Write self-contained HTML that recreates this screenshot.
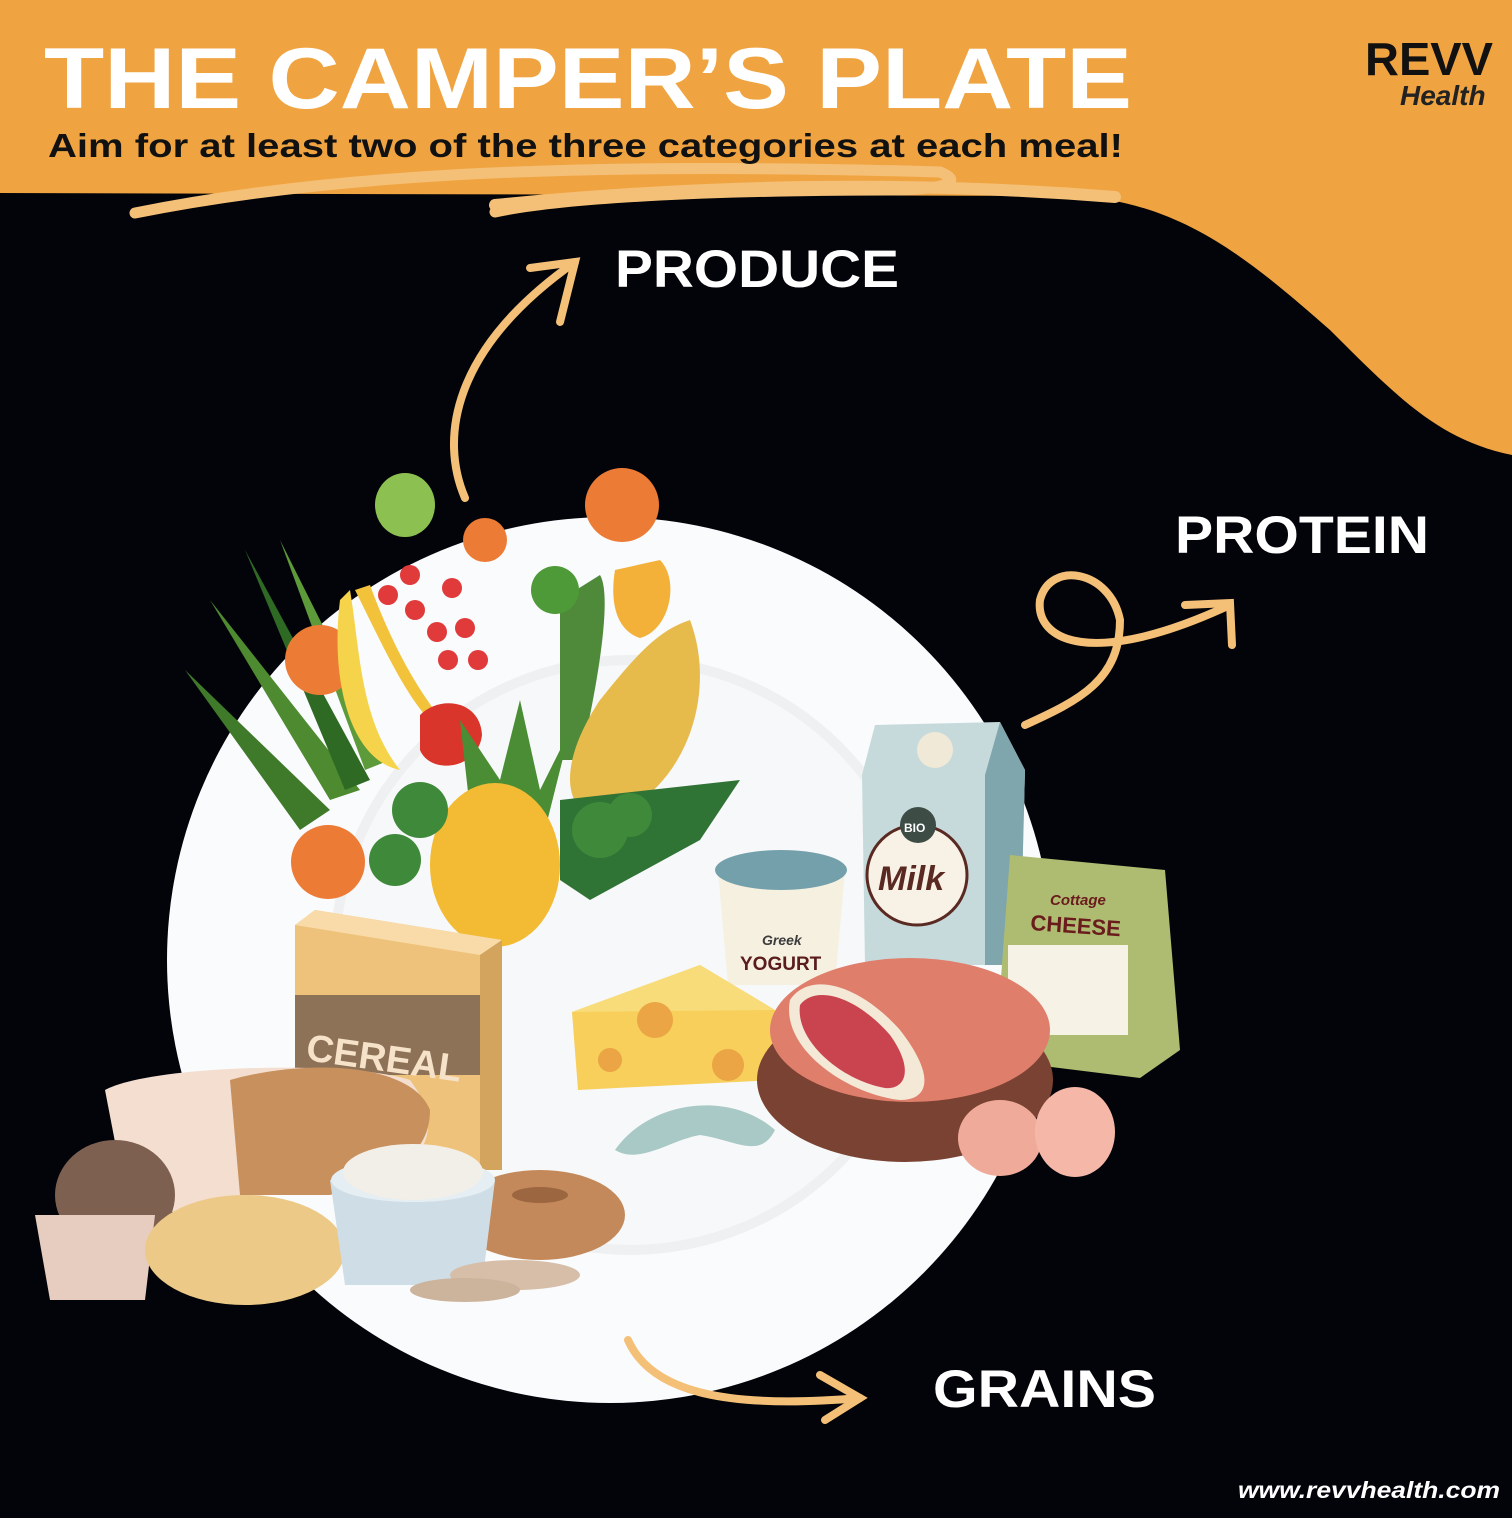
<!DOCTYPE html>
<html><head><meta charset="utf-8"><style>
html,body{margin:0;padding:0;background:#03040a;}
svg{display:block}
text{font-family:"Liberation Sans",sans-serif;font-weight:bold}
</style></head><body>
<svg width="1512" height="1518" viewBox="0 0 1512 1518" xmlns="http://www.w3.org/2000/svg">
<rect width="1512" height="1518" fill="#03040a"/>
<path d="M0 0H1512V455C1440 440 1400 400 1330 330C1250 260 1180 200 1070 196L0 193Z" fill="#f0a441"/>
<path d="M135 213C300 180 520 160 940 172C960 180 955 188 900 190C700 190 560 198 495 212" stroke="#f4c077" stroke-width="11" fill="none" stroke-linecap="round"/>
<path d="M495 205C700 185 900 180 1115 197" stroke="#f4c077" stroke-width="12" fill="none" stroke-linecap="round"/>
<text x="44" y="108" font-size="86" fill="#fff" textLength="1088" lengthAdjust="spacingAndGlyphs">THE CAMPER’S PLATE</text>
<text x="48" y="157" font-size="33" fill="#111" textLength="1075" lengthAdjust="spacingAndGlyphs">Aim for at least two of the three categories at each meal!</text>
<text x="1365" y="75" font-size="46" fill="#111" textLength="128" lengthAdjust="spacingAndGlyphs">REVV</text>
<text x="1400" y="105" font-size="28" fill="#222" font-style="italic" font-weight="normal" font-family="Liberation Serif">Health</text>
<text x="615" y="287" font-size="53" fill="#fff" textLength="284" lengthAdjust="spacingAndGlyphs">PRODUCE</text>
<text x="1175" y="553" font-size="53" fill="#fff" textLength="254" lengthAdjust="spacingAndGlyphs">PROTEIN</text>
<text x="933" y="1407" font-size="53" fill="#fff" textLength="223" lengthAdjust="spacingAndGlyphs">GRAINS</text>
<text x="1238" y="1498" font-size="23" fill="#fff" font-style="italic" font-weight="normal" textLength="262" lengthAdjust="spacingAndGlyphs">www.revvhealth.com</text>
<g stroke="#f4c077" stroke-width="8" fill="none" stroke-linecap="round">
<path d="M465 498C440 440 450 350 575 262"/><path d="M530 268L575 262L560 322"/>
<path d="M1025 725C1080 700 1120 680 1120 620C1110 570 1050 560 1040 600C1035 640 1090 670 1230 605"/><path d="M1185 605L1230 603L1232 645"/>
</g>
<circle cx="610" cy="960" r="443" fill="#fafbfc"/>
<circle cx="630" cy="955" r="300" fill="#eef0f2"/>
<circle cx="630" cy="955" r="290" fill="#f7f8f9"/>
<g stroke="#f4c077" stroke-width="8" fill="none" stroke-linecap="round">
<path d="M628 1340C650 1390 720 1410 860 1398"/><path d="M820 1375L860 1398L825 1420"/>
</g>
<g>
<path d="M185 670L330 810L300 830Z" fill="#3f7a2a"/><path d="M210 600L360 790L330 800Z" fill="#4d8a30"/><path d="M245 550L370 780L345 790Z" fill="#2f6a25"/><path d="M280 540L390 760L365 770Z" fill="#5c9a3a"/>
<ellipse cx="405" cy="505" rx="30" ry="32" fill="#8cc152"/>
<circle cx="485" cy="540" r="22" fill="#ec7b35"/><circle cx="622" cy="505" r="37" fill="#ec7b35"/>
<circle cx="320" cy="660" r="35" fill="#ec7b35"/><circle cx="328" cy="862" r="37" fill="#ec7b35"/>
<path d="M340 600C330 680 350 760 400 770C360 720 360 650 350 590Z" fill="#f5d34a"/><path d="M355 590C390 660 420 730 460 740C420 700 390 640 370 585Z" fill="#f2c23a"/>
<g fill="#e03a3a"><circle cx="388" cy="595" r="10"/><circle cx="410" cy="575" r="10"/><circle cx="415" cy="610" r="10"/><circle cx="437" cy="632" r="10"/><circle cx="452" cy="588" r="10"/><circle cx="465" cy="628" r="10"/><circle cx="448" cy="660" r="10"/><circle cx="478" cy="660" r="10"/></g>
<path d="M420 715C440 695 480 700 482 735C478 770 430 775 420 750Z" fill="#d9352b"/>
<path d="M560 600L600 575C615 600 590 720 580 760L560 760Z" fill="#4f8a3a"/>
<circle cx="555" cy="590" r="24" fill="#4f9a38"/><path d="M615 570L660 560C680 580 670 630 640 638C615 630 610 600 615 570Z" fill="#f3b13a"/>
<path d="M690 620C720 700 680 800 600 820C560 810 560 760 600 700C640 650 660 630 690 620Z" fill="#e6bb4c"/>
<path d="M460 720L500 780L520 700L540 790L570 730L545 830L470 810Z" fill="#4a8d34"/>
<ellipse cx="495" cy="865" rx="65" ry="82" fill="#f2bb33"/>
<path d="M560 800L740 780L700 840L590 900L560 880Z" fill="#2f7335"/>
<g fill="#3f8a3a"><circle cx="420" cy="810" r="28"/><circle cx="395" cy="860" r="26"/><circle cx="600" cy="830" r="28"/><circle cx="630" cy="815" r="22"/></g>
</g>
<path d="M875 725L1000 722L1025 770L1020 965L865 965L862 775Z" fill="#c6dadc"/>
<path d="M1000 722L1025 770L1020 965L985 965L985 775Z" fill="#7fa5ad"/>
<circle cx="935" cy="750" r="18" fill="#f1e9d8"/>
<circle cx="917" cy="875" r="50" fill="#f8f1e6" stroke="#5a2a22" stroke-width="3"/>
<circle cx="918" cy="825" r="18" fill="#3d4c45"/>
<text x="878" y="890" font-size="34" fill="#5a2a22" font-style="italic" font-family="Liberation Serif">Milk</text>
<text x="904" y="832" font-size="12" fill="#fff">BIO</text>
<path d="M1010 855L1165 870L1180 1050L1140 1078L995 1060Z" fill="#aebc72"/>
<rect x="1008" y="945" width="120" height="90" fill="#f6f2e6"/>
<text x="1030" y="930" font-size="22" fill="#6a1c1c" transform="rotate(4 1030 930)">CHEESE</text>
<text x="1050" y="905" font-size="15" fill="#6a1c1c" font-style="italic" font-weight="normal" font-family="Liberation Serif">Cottage</text>
<path d="M718 870L845 870L835 985L728 985Z" fill="#f6f0e0"/>
<ellipse cx="781" cy="870" rx="66" ry="20" fill="#74a0ab"/>
<text x="762" y="945" font-size="14" fill="#3d3d3d" font-style="italic" font-weight="normal">Greek</text>
<text x="740" y="970" font-size="19" fill="#5a1c1c">YOGURT</text>
<path d="M572 1012L700 965L775 1010L775 1080L578 1090Z" fill="#f7cf5a"/>
<path d="M572 1012L700 965L775 1010Z" fill="#f9dc7a"/>
<circle cx="655" cy="1020" r="18" fill="#eba544"/><circle cx="610" cy="1060" r="12" fill="#eba544"/><circle cx="728" cy="1065" r="16" fill="#eba544"/>
<ellipse cx="905" cy="1080" rx="148" ry="82" fill="#7a4232"/>
<ellipse cx="910" cy="1030" rx="140" ry="72" fill="#e07e6c"/>
<path d="M790 1000C810 970 860 985 900 1030C935 1075 930 1100 900 1100C850 1095 780 1050 790 1000Z" fill="#f4e8d6"/>
<path d="M800 1005C815 985 855 995 890 1035C915 1070 905 1090 885 1088C840 1080 795 1040 800 1005Z" fill="#c9444f"/>
<ellipse cx="1000" cy="1138" rx="42" ry="38" fill="#f0aa9a"/><ellipse cx="1075" cy="1132" rx="40" ry="45" fill="#f5b8a8"/>
<path d="M615 1150C650 1100 730 1090 775 1130C760 1160 735 1140 700 1135C670 1140 640 1165 615 1150Z" fill="#a8c9c5"/>
<path d="M295 925L315 910L502 940L502 1170L295 1170Z" fill="#eec27a"/>
<path d="M295 925L315 910L502 940L480 955Z" fill="#f8dba8"/>
<rect x="295" y="995" width="185" height="80" fill="#8e7257"/>
<path d="M480 955L502 940L502 1170L480 1170Z" fill="#d3a45e"/>
<text x="305" y="1060" font-size="38" fill="#f5e2c8" font-weight="normal" transform="rotate(8 305 1060)">CEREAL</text>
<path d="M105 1090C150 1065 350 1060 410 1080C440 1120 430 1150 400 1170L130 1220Z" fill="#f3ded0"/>
<path d="M230 1080C300 1060 410 1060 430 1110C430 1150 400 1175 330 1195L240 1195Z" fill="#c8905c"/>
<ellipse cx="115" cy="1195" rx="60" ry="55" fill="#7d6050"/>
<path d="M35 1215L155 1215L145 1300L50 1300Z" fill="#e6cdbf"/>
<ellipse cx="245" cy="1250" rx="100" ry="55" fill="#ecc987"/>
<ellipse cx="540" cy="1215" rx="85" ry="45" fill="#c4895a"/><ellipse cx="540" cy="1195" rx="28" ry="8" fill="#9c6640"/>
<path d="M330 1180L495 1180L482 1285L345 1285Z" fill="#cfdde6"/>
<ellipse cx="413" cy="1180" rx="82" ry="22" fill="#e4eef3"/><ellipse cx="413" cy="1172" rx="70" ry="28" fill="#f2efe9"/>
<ellipse cx="515" cy="1275" rx="65" ry="15" fill="#d6bea8"/><ellipse cx="465" cy="1290" rx="55" ry="12" fill="#ccb39c"/>
</svg>
</body></html>
